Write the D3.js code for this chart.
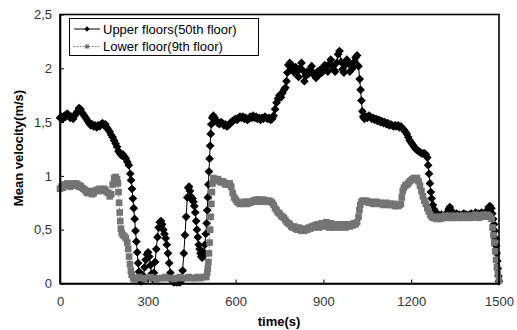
<!DOCTYPE html>
<html>
<head>
<meta charset="utf-8">
<script src="https://cdn.jsdelivr.net/npm/d3@7"></script>
<style>
  html, body { margin: 0; padding: 0; background: #fff; }
  svg { display: block; font-family: "Liberation Sans", Arial, sans-serif; }
</style>
</head>
<body>
<svg id="chart" width="517" height="330"></svg>
<script>
// Mean velocity over time, measured on two floors
const xTicks = [0, 300, 600, 900, 1200, 1500];
const yTicks = [0, 0.5, 1, 1.5, 2, 2.5];
const yTickLabels = ["0", "0,5", "1", "1,5", "2", "2,5"];
const seriesNames = ["Upper floors(50th floor)", "Lower floor(9th floor)"];

// Upper floors (50th floor): time (s) and mean velocity (m/s)
const upperTime = [
  0,5,10,15,20,25,30,35,40,45,50,55,60,65,70,75,80,85,90,95,
  100,105,110,115,120,125,130,135,140,145,150,155,160,165,170,175,180,185,190,195,
  200,205,210,215,220,225,230,235,240,243,246,249,252,255,258,261,264,267,270,273,
  277,281,285,289,293,297,301,305,309,313,317,321,325,329,333,337,341,345,349,353,
  357,361,365,369,373,377,381,385,390,395,400,405,410,415,419,423,427,431,435,438,
  441,444,447,450,453,456,459,462,465,468,471,474,477,480,483,486,489,492,495,498,
  501,503,505,507,509,511,513,515,517,520,524,528,532,536,540,545,550,555,560,565,
  570,575,580,585,590,595,600,605,610,615,620,625,630,635,640,645,650,655,660,665,
  670,675,680,685,690,695,700,705,710,715,720,725,730,735,740,745,750,755,760,765,
  770,774,777,780,785,790,795,800,805,810,815,820,825,830,835,840,845,850,855,860,
  865,870,875,880,885,890,895,900,905,910,915,920,925,930,935,940,945,950,955,960,
  965,970,975,980,985,990,995,1000,1005,1010,1015,1020,1024,1027,1030,1033,1036,1040,1045,1050,
  1055,1060,1065,1070,1075,1080,1085,1090,1095,1100,1105,1110,1115,1120,1125,1130,1135,1140,1145,1150,
  1155,1160,1165,1170,1175,1180,1185,1190,1195,1200,1205,1210,1215,1220,1225,1230,1235,1240,1245,1250,
  1255,1258,1261,1264,1267,1270,1274,1278,1283,1288,1293,1298,1303,1308,1313,1318,1323,1328,1332,1336,
  1340,1345,1350,1355,1360,1365,1370,1375,1380,1385,1390,1395,1400,1405,1410,1415,1420,1425,1430,1435,
  1440,1445,1450,1455,1460,1465,1469,1474,1477,1480,1483,1486,1488,1490,1492,1494,1496,1498,1500
];
const upperVel = [
  1.54,1.55,1.53,1.56,1.55,1.58,1.56,1.54,1.55,1.53,1.56,1.58,1.60,1.63,1.62,1.59,1.57,1.55,1.53,1.51,
  1.49,1.47,1.48,1.46,1.47,1.45,1.47,1.46,1.48,1.49,1.47,1.48,1.45,1.43,1.41,1.38,1.36,1.33,1.30,1.27,
  1.23,1.21,1.19,1.20,1.18,1.16,1.13,1.10,1.02,0.96,0.88,0.79,0.70,0.60,0.49,0.39,0.29,0.19,0.11,0.05,
  0.02,0.03,0.07,0.15,0.22,0.27,0.29,0.25,0.17,0.09,0.04,0.10,0.20,0.32,0.43,0.52,0.57,0.58,0.55,0.50,
  0.46,0.42,0.36,0.28,0.19,0.10,0.04,0.02,0.01,0.02,0.01,0.02,0.01,0.03,0.12,0.28,0.45,0.62,0.80,0.89,
  0.90,0.86,0.81,0.78,0.79,0.76,0.72,0.66,0.58,0.50,0.43,0.36,0.32,0.28,0.25,0.24,0.26,0.29,0.36,0.46,
  0.56,0.68,0.80,0.92,1.04,1.16,1.28,1.39,1.48,1.54,1.56,1.54,1.52,1.50,1.49,1.48,1.50,1.49,1.47,1.48,
  1.46,1.47,1.48,1.50,1.51,1.52,1.53,1.52,1.54,1.55,1.54,1.55,1.53,1.54,1.52,1.53,1.55,1.54,1.56,1.54,
  1.55,1.53,1.54,1.52,1.54,1.53,1.55,1.54,1.53,1.54,1.52,1.53,1.56,1.62,1.68,1.72,1.75,1.73,1.77,1.80,
  1.82,1.88,1.96,2.03,2.05,2.00,2.02,1.96,2.01,1.97,1.92,2.00,2.05,1.98,1.88,1.93,1.97,1.95,1.99,2.02,
  1.96,1.93,1.91,1.97,1.94,1.99,1.96,1.99,2.03,2.01,1.97,2.04,2.08,2.02,1.99,1.97,2.05,2.13,2.16,2.06,
  1.99,1.96,2.03,2.08,2.05,1.97,2.03,2.00,2.06,2.10,2.12,2.02,1.90,1.80,1.70,1.60,1.55,1.53,1.55,1.54,
  1.56,1.55,1.53,1.54,1.52,1.53,1.51,1.52,1.50,1.51,1.49,1.50,1.48,1.49,1.47,1.48,1.47,1.46,1.47,1.46,
  1.47,1.45,1.46,1.44,1.43,1.41,1.39,1.36,1.33,1.31,1.29,1.27,1.25,1.24,1.23,1.22,1.21,1.21,1.21,1.20,
  1.17,1.10,1.02,0.93,0.85,0.79,0.73,0.69,0.66,0.65,0.64,0.63,0.64,0.62,0.63,0.64,0.66,0.69,0.71,0.68,
  0.64,0.62,0.63,0.65,0.63,0.64,0.62,0.64,0.65,0.63,0.64,0.62,0.64,0.65,0.63,0.64,0.66,0.64,0.65,0.63,
  0.66,0.65,0.64,0.66,0.68,0.71,0.72,0.70,0.65,0.60,0.55,0.49,0.42,0.35,0.28,0.21,0.14,0.07,0.02
];

// Lower floor (9th floor): time (s) and mean velocity (m/s)
const lowerTime = [
  0,5,10,15,20,25,30,35,40,45,50,55,60,65,70,75,80,85,90,95,
  100,105,110,115,120,125,130,135,140,145,150,155,160,165,170,175,180,185,190,195,
  198,200,202,204,206,208,211,215,220,225,230,233,236,239,242,245,250,255,260,270,
  280,290,300,310,320,330,340,350,360,370,380,390,400,410,420,430,440,450,460,470,
  480,490,500,503,505,507,509,511,513,515,517,519,521,524,528,535,540,545,550,555,
  560,565,570,575,580,585,590,595,600,605,610,615,620,625,630,635,640,645,650,655,
  660,665,670,675,680,685,690,695,700,705,710,715,720,725,730,735,740,745,750,755,
  760,765,770,775,780,785,790,795,800,805,810,815,820,825,830,835,840,845,850,855,
  860,865,870,875,880,885,890,895,900,905,910,915,920,925,930,935,940,945,950,955,
  960,965,970,975,980,985,990,995,1000,1005,1010,1015,1020,1023,1026,1030,1035,1040,1045,1050,
  1055,1060,1065,1070,1075,1080,1085,1090,1095,1100,1105,1110,1115,1120,1125,1130,1135,1140,1145,1150,
  1155,1160,1165,1168,1171,1175,1180,1185,1190,1195,1200,1205,1210,1215,1220,1225,1230,1235,1240,1245,
  1250,1255,1260,1265,1270,1275,1280,1285,1290,1295,1300,1305,1310,1315,1320,1325,1330,1335,1340,1345,
  1350,1355,1360,1365,1370,1375,1380,1385,1390,1395,1400,1405,1410,1415,1420,1425,1430,1435,1440,1445,
  1450,1455,1460,1465,1470,1475,1478,1481,1484,1487,1490,1493,1496,1500
];
const lowerVel = [
  0.88,0.90,0.89,0.92,0.91,0.93,0.92,0.90,0.92,0.93,0.91,0.93,0.92,0.90,0.91,0.89,0.88,0.87,0.85,0.84,
  0.86,0.85,0.83,0.84,0.86,0.87,0.86,0.88,0.87,0.86,0.88,0.87,0.85,0.84,0.81,0.83,0.92,0.98,0.99,0.97,
  0.93,0.85,0.75,0.66,0.58,0.51,0.47,0.45,0.44,0.42,0.38,0.32,0.25,0.18,0.12,0.08,0.05,0.04,0.05,0.06,
  0.05,0.04,0.05,0.06,0.05,0.04,0.05,0.05,0.06,0.05,0.05,0.04,0.05,0.06,0.05,0.05,0.06,0.05,0.05,0.06,
  0.05,0.06,0.06,0.10,0.14,0.20,0.28,0.38,0.50,0.62,0.74,0.85,0.93,0.98,0.97,0.96,0.97,0.95,0.94,0.95,
  0.94,0.92,0.93,0.92,0.93,0.90,0.84,0.80,0.78,0.76,0.75,0.74,0.75,0.74,0.76,0.75,0.74,0.76,0.75,0.76,
  0.77,0.76,0.78,0.77,0.78,0.76,0.77,0.78,0.76,0.77,0.76,0.77,0.76,0.75,0.73,0.70,0.68,0.66,0.65,0.63,
  0.62,0.61,0.59,0.57,0.56,0.55,0.53,0.52,0.53,0.51,0.50,0.52,0.51,0.49,0.50,0.49,0.51,0.50,0.52,0.51,
  0.53,0.52,0.54,0.53,0.55,0.52,0.54,0.56,0.53,0.55,0.57,0.54,0.52,0.56,0.54,0.52,0.55,0.53,0.54,0.52,
  0.55,0.53,0.54,0.52,0.55,0.54,0.53,0.55,0.54,0.56,0.55,0.57,0.62,0.68,0.73,0.76,0.77,0.76,0.77,0.76,
  0.75,0.76,0.75,0.74,0.75,0.76,0.75,0.74,0.75,0.74,0.73,0.74,0.75,0.74,0.73,0.74,0.73,0.74,0.72,0.73,
  0.72,0.73,0.74,0.80,0.86,0.89,0.91,0.92,0.93,0.95,0.96,0.97,0.98,0.97,0.98,0.95,0.91,0.86,0.81,0.77,
  0.74,0.70,0.67,0.64,0.62,0.61,0.62,0.60,0.61,0.62,0.60,0.62,0.61,0.63,0.62,0.61,0.63,0.62,0.61,0.62,
  0.63,0.61,0.62,0.63,0.61,0.62,0.63,0.62,0.61,0.63,0.62,0.61,0.63,0.62,0.64,0.62,0.61,0.63,0.62,0.64,
  0.63,0.62,0.64,0.63,0.62,0.60,0.52,0.45,0.38,0.30,0.22,0.15,0.09,0.03
];

const svg = d3.select("#chart");
const plot = { left: 60, right: 499, top: 14.5, bottom: 283.5 };

const x = d3.scaleLinear().domain([0, 1500]).range([plot.left, plot.right]);
const y = d3.scaleLinear().domain([0, 2.5]).range([plot.bottom, plot.top]);

const upper = upperTime.map((t, i) => ({ t, v: upperVel[i] }));
const lower = lowerTime.map((t, i) => ({ t, v: lowerVel[i] }));

const line = d3.line().x(d => x(d.t)).y(d => y(d.v));
// Diamond marker: a square turned by 45 degrees
const diamond = d3.symbol().type(d3.symbolSquare).size(38);
const square = d3.symbol().type(d3.symbolSquare).size(44);

const upperColor = "#000";
const lowerColor = "#747474";

// Upper floors: solid black line with diamond markers
svg.append("path").datum(upper)
  .attr("d", line).attr("fill", "none")
  .attr("stroke", upperColor).attr("stroke-width", 1);
svg.append("g").selectAll("path").data(upper).join("path")
  .attr("d", diamond)
  .attr("transform", d => `translate(${x(d.t)},${y(d.v)}) rotate(45)`)
  .attr("fill", upperColor);

// Lower floor: dotted grey line with square markers
svg.append("path").datum(lower)
  .attr("d", line).attr("fill", "none")
  .attr("stroke", lowerColor).attr("stroke-width", 1)
  .attr("stroke-dasharray", "1.5,1.5");
svg.append("g").selectAll("path").data(lower).join("path")
  .attr("d", square)
  .attr("transform", d => `translate(${x(d.t)},${y(d.v)})`)
  .attr("fill", lowerColor);

// Frame around the plot area
svg.append("rect")
  .attr("x", plot.left).attr("y", plot.top)
  .attr("width", plot.right - plot.left).attr("height", plot.bottom - plot.top)
  .attr("fill", "none").attr("stroke", "#000").attr("stroke-width", 1.6);

// Axes with inward ticks
const xAxis = d3.axisBottom(x).tickValues(xTicks).tickFormat(d3.format("d"))
  .tickSizeInner(-4).tickSizeOuter(0).tickPadding(13);
const yAxis = d3.axisLeft(y).tickValues(yTicks)
  .tickFormat((d, i) => yTickLabels[i])
  .tickSizeInner(-4).tickSizeOuter(0).tickPadding(8);

const gx = svg.append("g").attr("transform", `translate(0,${plot.bottom})`).call(xAxis);
const gy = svg.append("g").attr("transform", `translate(${plot.left},0)`).call(yAxis);
[gx, gy].forEach(g => {
  g.select(".domain").attr("stroke", "#000").attr("stroke-width", 1.6);
  g.selectAll(".tick line").attr("stroke", "#000").attr("stroke-width", 1);
  g.selectAll(".tick text").attr("fill", "#333")
    .style("font-size", "13px").style("font-family", "'Liberation Sans', Arial, sans-serif");
});

// Axis titles
svg.append("text")
  .attr("x", 279).attr("y", 326)
  .attr("text-anchor", "middle")
  .style("font-size", "13px").style("font-weight", "bold")
  .text("time(s)");
svg.append("text")
  .attr("transform", "translate(23,148) rotate(-90)")
  .attr("text-anchor", "middle")
  .style("font-size", "13px").style("font-weight", "bold")
  .text("Mean velocity(m/s)");

// Legend
const legend = svg.append("g");
legend.append("rect")
  .attr("x", 69.5).attr("y", 18.5).attr("width", 189).attr("height", 37)
  .attr("fill", "#fff").attr("stroke", "#000").attr("stroke-width", 1);
const legendRows = [
  { name: seriesNames[0], color: upperColor, shape: d3.symbol().type(d3.symbolSquare).size(14), rot: 45, dash: null, yPos: 29 },
  { name: seriesNames[1], color: lowerColor, shape: d3.symbol().type(d3.symbolSquare).size(16), rot: 0, dash: "1.5,1.5", yPos: 46.5 }
];
legendRows.forEach(r => {
  legend.append("line")
    .attr("x1", 74).attr("x2", 100).attr("y1", r.yPos).attr("y2", r.yPos)
    .attr("stroke", r.color).attr("stroke-width", 1)
    .attr("stroke-dasharray", r.dash);
  legend.append("path")
    .attr("d", r.shape).attr("transform", `translate(87,${r.yPos}) rotate(${r.rot})`)
    .attr("fill", r.color);
  legend.append("text")
    .attr("x", 103).attr("y", r.yPos + 4.5)
    .style("font-size", "13px")
    .text(r.name);
});
</script>
</body>
</html>
